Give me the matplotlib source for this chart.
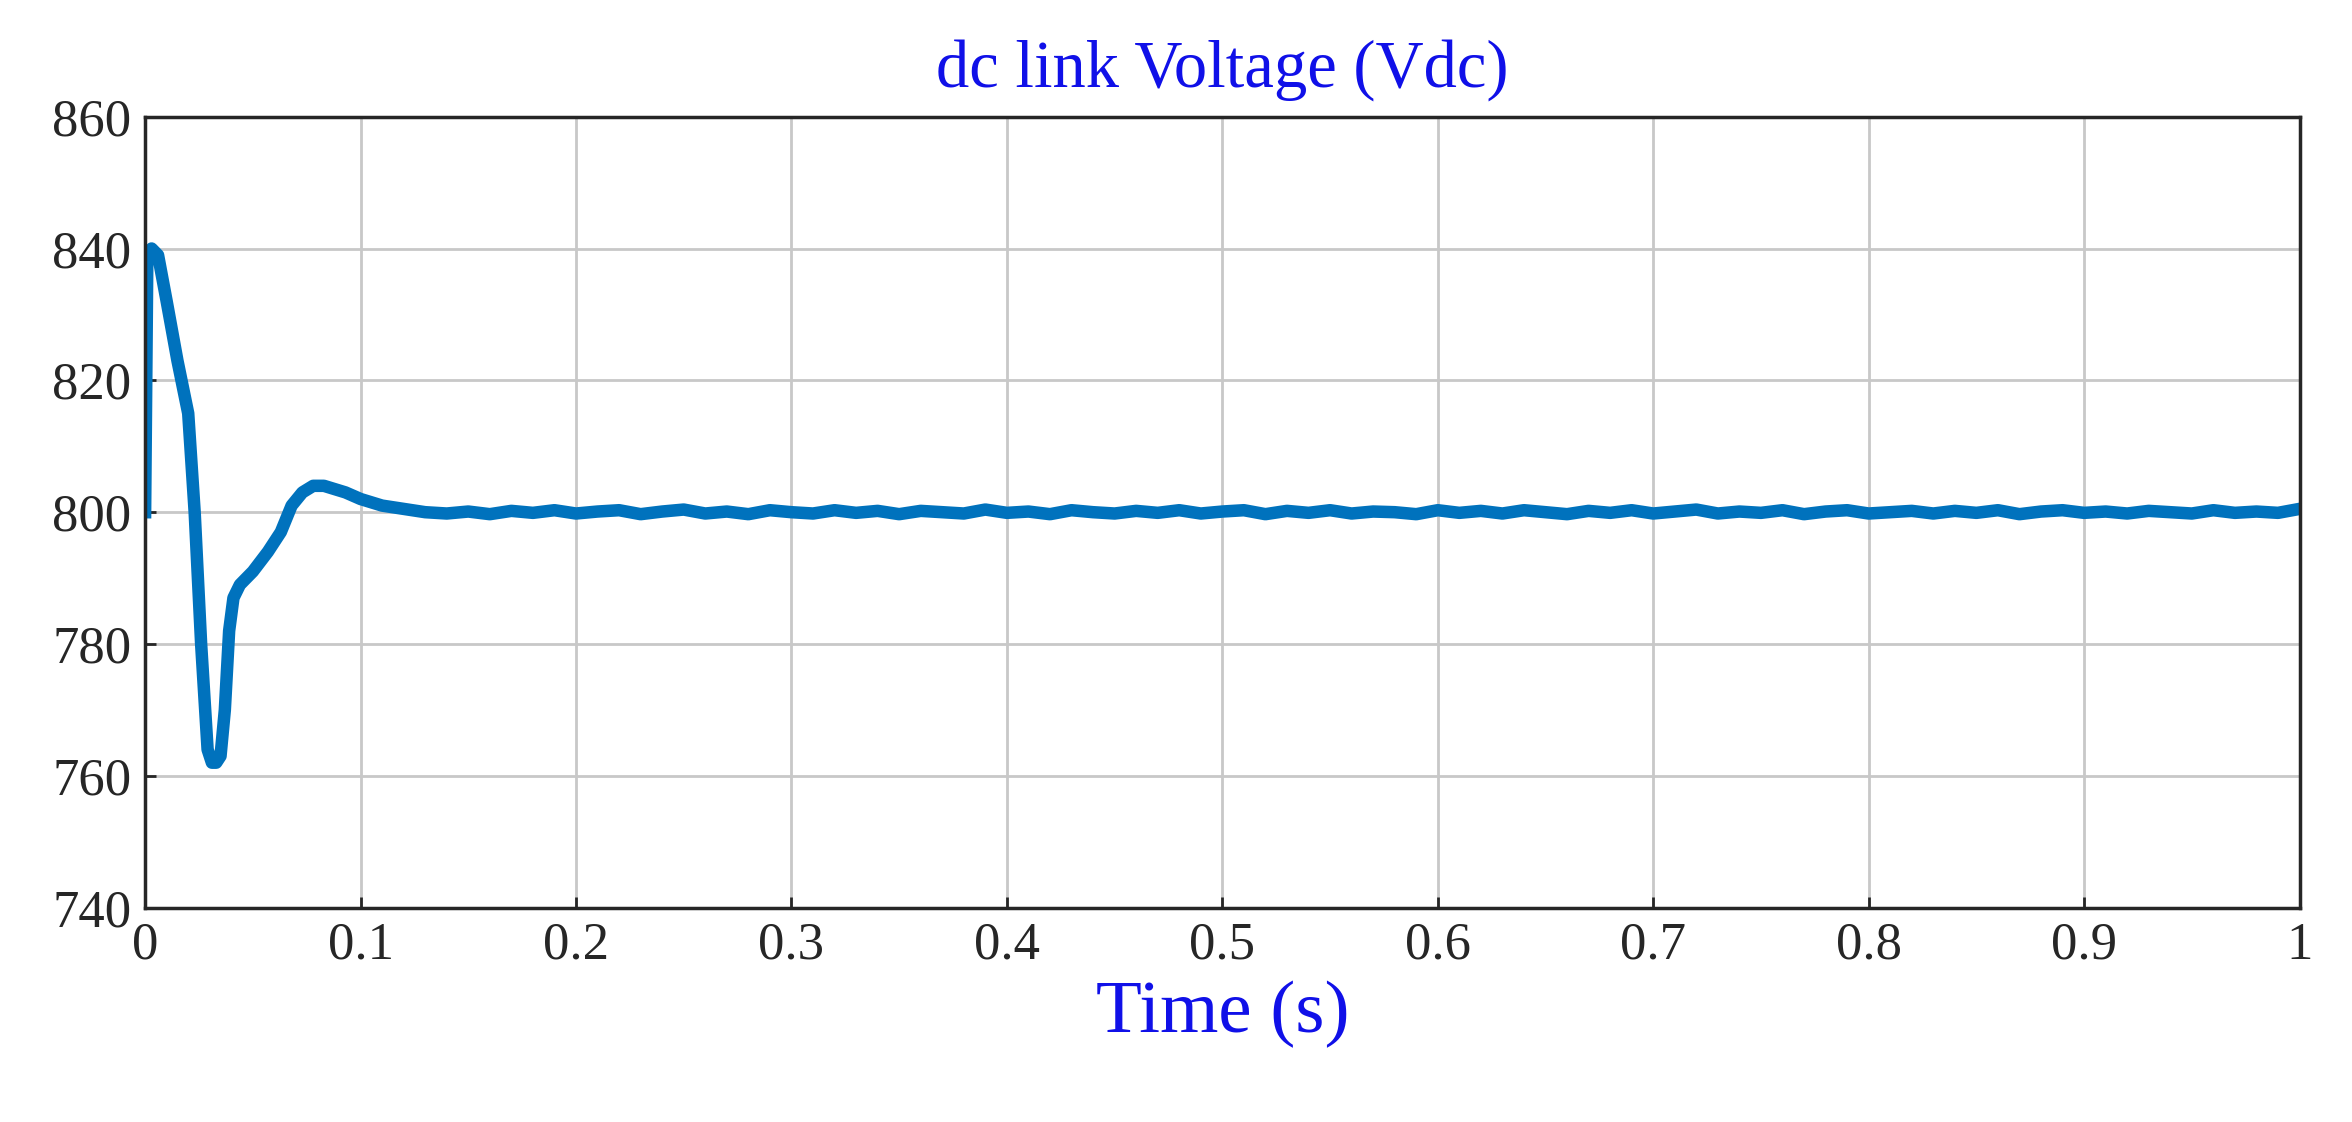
import matplotlib.pyplot as plt

# transient part of the dc link voltage
t_start = [0.0, 0.001, 0.003, 0.006, 0.01, 0.015, 0.02, 0.023, 0.026, 0.029, 0.031,
           0.033, 0.035, 0.037, 0.039, 0.041, 0.044, 0.05, 0.057, 0.063, 0.068,
           0.073, 0.078, 0.083, 0.088, 0.093, 0.1, 0.11, 0.12, 0.13, 0.14]
v_start = [800, 838, 840, 839, 832, 823, 815, 800, 780, 764, 762,
           762, 763, 770, 782, 787, 789, 791, 794, 797, 801,
           803, 804, 804, 803.5, 803, 802, 801, 800.5, 800, 799.8]

# steady-state ripple samples, every 0.01 s from 0.15 to 1.0
t_steady = [0.15 + 0.01 * i for i in range(86)]
v_steady = [800.1, 799.7, 800.2, 799.9, 800.3, 799.8, 800.1, 800.3, 799.7, 800.1,
            800.4, 799.8, 800.1, 799.7, 800.3, 800.0, 799.8, 800.3, 799.9, 800.2,
            799.7, 800.2, 800.0, 799.8, 800.4, 799.9, 800.1, 799.7, 800.3, 800.0,
            799.8, 800.2, 799.9, 800.3, 799.8, 800.1, 800.3, 799.7, 800.2, 799.9,
            800.3, 799.8, 800.1, 800.0, 799.7, 800.3, 799.9, 800.2, 799.8, 800.3,
            800.0, 799.7, 800.2, 799.9, 800.3, 799.8, 800.1, 800.4, 799.8, 800.1,
            799.9, 800.3, 799.7, 800.1, 800.3, 799.8, 800.0, 800.2, 799.8, 800.2,
            799.9, 800.3, 799.7, 800.1, 800.3, 799.9, 800.1, 799.8, 800.2, 800.0,
            799.8, 800.3, 799.9, 800.1, 799.9, 800.5]

t = t_start + t_steady
v = v_start + v_steady

x_ticks = [0, 0.1, 0.2, 0.3, 0.4, 0.5, 0.6, 0.7, 0.8, 0.9, 1]
x_labels = ['0', '0.1', '0.2', '0.3', '0.4', '0.5', '0.6', '0.7', '0.8', '0.9', '1']
y_ticks = [740, 760, 780, 800, 820, 840, 860]

plt.rcParams['font.family'] = ['Liberation Serif', 'DejaVu Serif']

fig = plt.figure(figsize=(23.52, 11.22), dpi=100)
ax = fig.add_axes([0.0617, 0.191, 0.916, 0.705])
ax.plot(t, v, color='#0072BD', linewidth=9, solid_joinstyle='round')

ax.set_xlim(0, 1)
ax.set_ylim(740, 860)
ax.set_xticks(x_ticks)
ax.set_xticklabels(x_labels)
ax.set_yticks(y_ticks)
ax.tick_params(labelsize=38, colors='#262626', direction='in', length=8, width=2, pad=10)
ax.grid(True, color='#c8c8c8', linewidth=2)
for s in ax.spines.values():
    s.set_linewidth(2.5)
    s.set_color('#262626')

ax.set_title('dc link Voltage (Vdc)', fontsize=48, color='#1010e8', pad=22)
ax.set_xlabel('Time (s)', fontsize=54, color='#1010e8', labelpad=8)

fig.savefig('out.png', dpi=100)
